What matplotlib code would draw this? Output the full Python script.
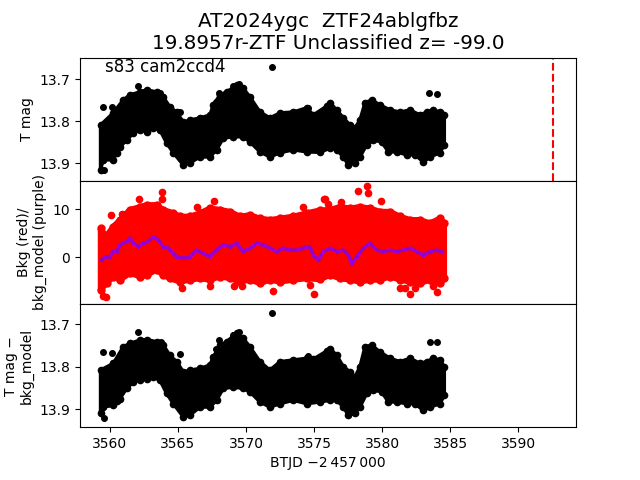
import numpy as np
import matplotlib
matplotlib.use("Agg")
import matplotlib.pyplot as plt

# ---- Top panel: T mag envelope (upper = bright edge, lower = faint edge)
t_top_up = [3559.31, 3560.25, 3560.98, 3561.47, 3562.21, 3562.70, 3563.43, 3563.92, 3564.41, 3564.90,
            3565.39, 3565.88, 3566.62, 3567.35, 3567.60, 3568.09, 3568.58, 3569.31, 3569.80, 3570.29,
            3571.03, 3571.76, 3572.50, 3573.48, 3574.46, 3574.95, 3575.93, 3576.18, 3576.67, 3577.16,
            3577.65, 3578.01, 3578.38, 3578.75, 3579.24, 3579.85, 3580.59, 3581.32, 3582.06, 3582.79,
            3583.28, 3583.77, 3584.26, 3584.58]
m_top_up = [13.809, 13.780, 13.749, 13.737, 13.730, 13.725, 13.730, 13.742, 13.766, 13.778,
            13.802, 13.797, 13.792, 13.785, 13.761, 13.737, 13.730, 13.714, 13.721, 13.742,
            13.778, 13.792, 13.780, 13.778, 13.768, 13.785, 13.764, 13.756, 13.773, 13.792,
            13.809, 13.816, 13.797, 13.756, 13.749, 13.761, 13.773, 13.778, 13.773, 13.785,
            13.778, 13.773, 13.778, 13.785]
t_top_lo = [3559.31, 3559.50, 3560.25, 3560.49, 3560.74, 3561.23, 3561.72, 3562.21, 3562.70, 3563.19,
            3563.68, 3564.17, 3564.66, 3565.39, 3565.88, 3566.62, 3567.35, 3567.84, 3568.33, 3569.07,
            3569.80, 3570.29, 3571.03, 3571.76, 3572.50, 3573.48, 3574.46, 3575.44, 3576.18, 3576.67,
            3577.16, 3577.52, 3578.01, 3578.38, 3578.87, 3579.36, 3579.97, 3580.47, 3581.08, 3581.81,
            3582.43, 3583.04, 3583.53, 3584.26, 3584.58]
m_top_lo = [13.916, 13.892, 13.892, 13.875, 13.861, 13.845, 13.828, 13.821, 13.825, 13.816,
            13.821, 13.852, 13.875, 13.904, 13.899, 13.885, 13.885, 13.868, 13.840, 13.837,
            13.837, 13.849, 13.873, 13.885, 13.875, 13.868, 13.873, 13.874, 13.864, 13.868,
            13.885, 13.904, 13.899, 13.885, 13.856, 13.845, 13.849, 13.873, 13.873, 13.880,
            13.880, 13.897, 13.885, 13.875, 13.856]
t_top_out = [3559.51, 3560.17, 3562.08, 3563.68, 3568.04, 3567.77, 3569.07, 3569.51, 3571.89, 3565.15,
             3574.53, 3559.56, 3583.48, 3584.02]
m_top_out = [13.767, 13.767, 13.716, 13.732, 13.732, 13.753, 13.716, 13.712, 13.670, 13.777,
             13.769, 13.916, 13.733, 13.736]

# ---- Bottom panel: T mag - bkg_model
t_bot_up = t_top_up
m_bot_up = [13.808, 13.792, 13.753, 13.745, 13.737, 13.736, 13.741, 13.749, 13.773, 13.788,
            13.812, 13.808, 13.804, 13.796, 13.777, 13.749, 13.741, 13.721, 13.733, 13.753,
            13.788, 13.808, 13.788, 13.784, 13.780, 13.782, 13.763, 13.757, 13.773, 13.800,
            13.812, 13.824, 13.800, 13.753, 13.749, 13.765, 13.780, 13.788, 13.780, 13.792,
            13.788, 13.780, 13.784, 13.800]
t_bot_lo = t_top_lo
m_bot_lo = [13.910, 13.895, 13.891, 13.880, 13.875, 13.851, 13.836, 13.832, 13.828, 13.824,
            13.832, 13.863, 13.887, 13.918, 13.914, 13.895, 13.895, 13.879, 13.851, 13.848,
            13.851, 13.859, 13.883, 13.895, 13.887, 13.879, 13.887, 13.883, 13.879, 13.879,
            13.895, 13.914, 13.910, 13.895, 13.863, 13.855, 13.859, 13.883, 13.883, 13.887,
            13.887, 13.903, 13.895, 13.887, 13.867]
t_bot_out = [3559.51, 3560.17, 3562.08, 3563.74, 3568.04, 3567.77, 3569.07, 3569.51, 3571.89, 3565.15,
             3574.53, 3559.56, 3583.53, 3584.02]
m_bot_out = [13.765, 13.767, 13.719, 13.741, 13.737, 13.758, 13.724, 13.719, 13.674, 13.770,
             13.775, 13.920, 13.741, 13.741]

# ---- Middle panel: background (red) envelope and bkg model (purple)
t_bkg_up = [3559.31, 3559.45, 3559.75, 3560.25, 3560.74, 3561.47, 3562.21, 3562.70, 3563.43, 3563.92,
            3564.66, 3565.15, 3565.88, 3566.62, 3567.35, 3568.09, 3568.82, 3569.56, 3570.29, 3571.03,
            3571.76, 3572.50, 3573.48, 3574.46, 3575.44, 3576.18, 3576.91, 3577.65, 3578.38, 3579.12,
            3579.85, 3580.59, 3581.32, 3582.06, 3582.79, 3583.53, 3584.26, 3584.58]
v_bkg_up = [6.0, 5.0, 4.5, 6.4, 7.8, 9.9, 10.5, 10.9, 10.9, 9.9,
            9.2, 8.5, 8.5, 9.2, 10.2, 9.9, 9.5, 8.5, 8.8, 8.1,
            7.8, 8.1, 8.5, 9.2, 9.8, 9.9, 10.5, 10.2, 10.5, 10.2,
            9.5, 9.5, 8.5, 7.8, 7.8, 7.1, 8.1, 7.1]
t_bkg_lo = [3559.31, 3559.75, 3560.25, 3560.74, 3561.47, 3562.21, 3562.70, 3563.43, 3563.92, 3564.41,
            3565.15, 3565.88, 3566.62, 3567.35, 3568.09, 3568.82, 3569.56, 3570.29, 3571.03, 3571.76,
            3572.50, 3573.48, 3574.46, 3575.44, 3576.18, 3576.91, 3577.65, 3578.38, 3579.12, 3579.85,
            3580.59, 3581.32, 3582.06, 3582.79, 3583.53, 3584.26, 3584.58]
v_bkg_lo = [-6.8, -5.4, -4.0, -4.7, -3.3, -4.0, -3.7, -2.6, -3.7, -4.4,
            -5.1, -4.7, -4.4, -4.7, -4.0, -4.4, -5.1, -4.7, -5.4, -4.7,
            -5.1, -4.7, -4.4, -4.6, -3.7, -4.4, -4.7, -5.1, -4.7, -4.7,
            -4.0, -4.7, -5.1, -5.4, -4.7, -5.4, -4.4]
t_bkg_out = [3562.16, 3563.85, 3563.80, 3567.67, 3560.05, 3560.86, 3566.37, 3575.80, 3575.74, 3576.05,
             3576.96, 3578.26, 3578.92, 3578.95, 3579.93, 3574.20,
             3559.68, 3559.50, 3565.27, 3567.35, 3569.14, 3569.68, 3572.00, 3575.02, 3574.70,
             3581.32, 3581.69, 3582.06, 3582.43, 3583.77, 3584.07]
v_bkg_out = [12.1, 13.5, 12.1, 11.8, 8.8, 9.1, 10.4, 12.1, 12.1, 11.1,
             11.5, 13.8, 14.9, 13.3, 11.6, 10.4,
             -8.3, -8.0, -6.3, -6.0, -5.9, -5.9, -7.0, -7.7, -5.8,
             -6.3, -6.3, -7.6, -6.3, -6.0, -7.3]
t_model = [3559.39, 3559.63, 3560.00, 3560.25, 3560.49, 3560.74, 3561.23, 3561.47, 3561.72, 3562.08,
           3562.45, 3562.82, 3563.19, 3563.55, 3563.92, 3564.29, 3564.90, 3565.39, 3565.88, 3566.37,
           3566.86, 3567.35, 3567.84, 3568.33, 3568.82, 3569.31, 3569.80, 3570.29, 3570.78, 3571.27,
           3571.76, 3572.25, 3572.75, 3573.24, 3573.73, 3574.22, 3574.71, 3574.95, 3575.32, 3575.69,
           3576.18, 3576.67, 3577.16, 3577.52, 3577.77, 3578.14, 3578.63, 3579.12, 3579.61, 3580.10,
           3580.59, 3581.08, 3581.57, 3582.06, 3582.55, 3583.04, 3583.53, 3584.02, 3584.39]
v_model = [-0.6, 0.1, 0.1, 1.2, 1.2, 2.6, 3.3, 4.0, 2.9, 2.2,
           2.9, 3.3, 4.3, 3.6, 2.2, 1.9, 0.1, -0.2, 0.1, 1.5,
           0.8, 0.1, 1.5, 2.6, 2.2, 2.9, 1.2, 1.9, 2.9, 2.6,
           1.9, 1.2, 1.9, 1.5, 1.5, 1.9, 2.2, 0.5, -0.6, 1.2,
           1.9, 1.2, 1.5, 0.5, -1.3, 0.1, 1.9, 2.9, 1.5, 1.2,
           1.5, 1.2, 1.5, 1.9, 1.2, 0.5, 1.2, 1.5, 1.2]

t_disc = 3592.54
title_lines = ["AT2024ygc  ZTF24ablgfbz", "19.8957r-ZTF Unclassified z= -99.0"]
sector_text = "s83 cam2ccd4"

fig, axes = plt.subplots(3, 1, sharex=True, figsize=(6.4, 4.8), dpi=100)
fig.subplots_adjust(hspace=0)
ax1, ax2, ax3 = axes


def band(ax, tu, mu, tl, ml, color, lw, ms):
    xs = np.concatenate([np.asarray(tu), np.asarray(tl)[::-1]])
    ys = np.concatenate([np.asarray(mu), np.asarray(ml)[::-1]])
    ax.fill(xs, ys, facecolor=color, edgecolor=color, linewidth=lw, joinstyle='round')
    ax.plot(tu, mu, 'o', color=color, ms=ms)
    ax.plot(tl, ml, 'o', color=color, ms=ms)


band(ax1, t_top_up, m_top_up, t_top_lo, m_top_lo, 'black', 2.5, 4.5)
ax1.errorbar(t_top_out, m_top_out, yerr=0.005, fmt='o', color='black', ms=4, elinewidth=1.5, capsize=0)
ax1.axvline(t_disc, color='red', ls='--', lw=1.5)
ax1.set_ylim(13.942, 13.648)
ax1.set_yticks([13.7, 13.8, 13.9])
ax1.set_ylabel("T mag")
ax1.text(0.05, 0.995, sector_text, transform=ax1.transAxes, fontsize=12, va='top', ha='left')
ax1.set_title("\n".join(title_lines), fontsize=14.4)

band(ax2, t_bkg_up, v_bkg_up, t_bkg_lo, v_bkg_lo, 'red', 4, 5)
ax2.plot(t_bkg_out, v_bkg_out, 'o', color='red', ms=4.5)
ax2.plot(t_model, v_model, '-', color='darkviolet', lw=2.5, marker='.', ms=3)
ax2.set_ylim(-9.7, 15.9)
ax2.set_yticks([0, 10])
ax2.set_ylabel("Bkg (red)/\nbkg_model (purple)")

band(ax3, t_bot_up, m_bot_up, t_bot_lo, m_bot_lo, 'black', 2.5, 4.5)
ax3.errorbar(t_bot_out, m_bot_out, yerr=0.005, fmt='o', color='black', ms=4, elinewidth=1.5, capsize=0)
ax3.set_ylim(13.9425, 13.652)
ax3.set_yticks([13.7, 13.8, 13.9])
ax3.set_ylabel("T mag \u2212\nbkg_model")

ax3.set_xlim(3557.8, 3594.26)
ax3.set_xticks([3560, 3565, 3570, 3575, 3580, 3585, 3590])
ax3.set_xlabel("BTJD \u22122\u2009457\u2009000")

fig.savefig("out.png", dpi=100)
